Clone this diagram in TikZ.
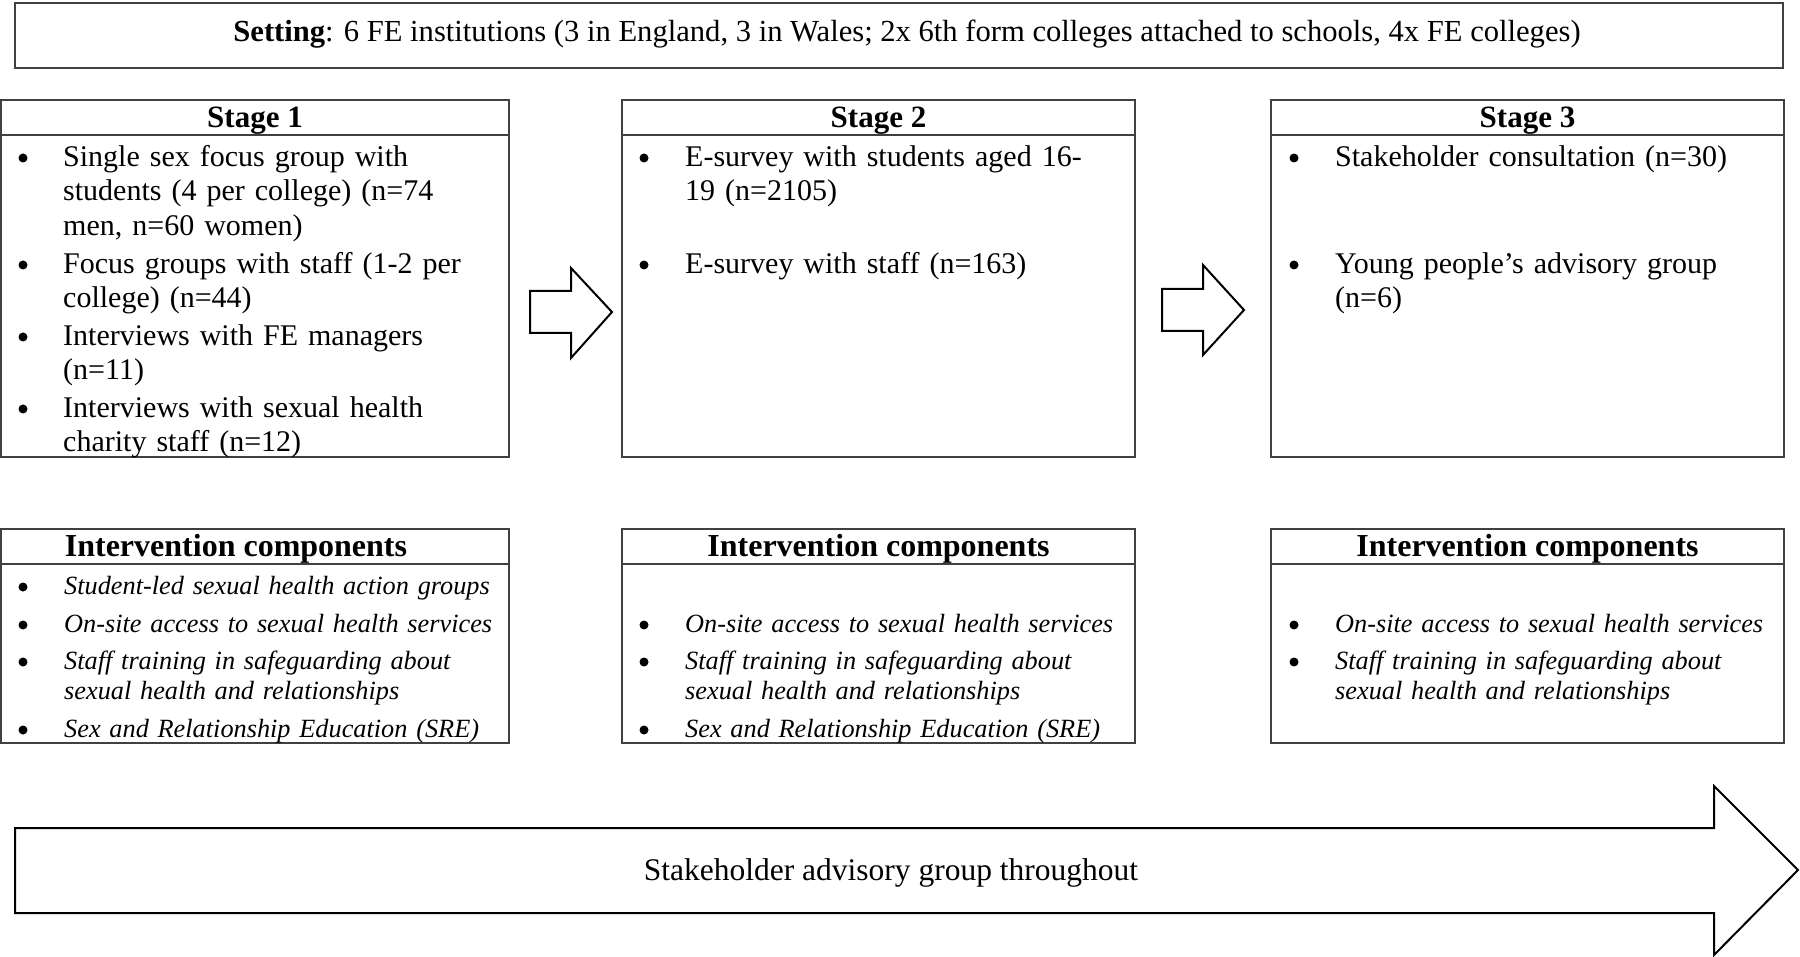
\documentclass[tikz,border=0pt]{standalone}
\usepackage{fontspec}
\setmainfont{Liberation Serif}
\begin{document}
\begin{tikzpicture}[x=1pt,y=-1pt,
  boxline/.style={draw=black!75, line width=1.5pt},
  blockarrow/.style={draw=black, line width=2pt, line join=miter, fill=white},
  itemtext/.style={anchor=base west, inner sep=0pt, align=left, text width=440pt, font=\fontsize{30}{34.4}\selectfont},
  comptext/.style={anchor=base west, inner sep=0pt, align=left, text width=440pt, font=\fontsize{26.3}{30}\selectfont\itshape},
  headtext/.style={anchor=base, inner sep=0pt, font=\fontsize{31}{36}\selectfont\bfseries},
  comphead/.style={anchor=base, inner sep=0pt, font=\fontsize{32}{36}\selectfont\bfseries},
  dot/.style={circle, fill=black, inner sep=0pt, minimum size=9pt}
]
\useasboundingbox (0,0) rectangle (1800,957);

% Setting box
\draw[boxline] (15,3) rectangle (1783,68);
\node[anchor=base, inner sep=0pt, font=\fontsize{30.6}{34}\selectfont] (setting) at (907,42)
  {\textbf{Setting}: 6 FE institutions (3 in England, 3 in Wales; 2x 6th form colleges attached to schools, 4x FE colleges)};

% Stage boxes
\draw[boxline] (1,100) rectangle (509,457);   \draw[boxline] (1,135) -- (509,135);
\draw[boxline] (622,100) rectangle (1135,457); \draw[boxline] (622,135) -- (1135,135);
\draw[boxline] (1271,100) rectangle (1784,457); \draw[boxline] (1271,135) -- (1784,135);

\node[headtext] (h1) at (255,128) {Stage 1};
\node[headtext] (h2) at (878.5,128) {Stage 2};
\node[headtext] (h3) at (1527.5,128) {Stage 3};

% Stage 1 items
\node[dot] (b11) at (23,158) {};
\node[itemtext] (t11) at (63,166.5) {Single sex focus group with\\ students (4 per college) (n=74\\ men, n=60 women)};
\node[dot] (b12) at (23,265) {};
\node[itemtext] (t12) at (63,273.5) {Focus groups with staff (1-2 per\\ college) (n=44)};
\node[dot] (b13) at (23,337) {};
\node[itemtext] (t13) at (63,345.5) {Interviews with FE managers\\ (n=11)};
\node[dot] (b14) at (23,409) {};
\node[itemtext] (t14) at (63,417.5) {Interviews with sexual health\\ charity staff (n=12)};

% Stage 2 items
\node[dot] (b21) at (644,158) {};
\node[itemtext] (t21) at (685,166.5) {E-survey with students aged 16-\\ 19 (n=2105)};
\node[dot] (b22) at (644,265) {};
\node[itemtext] (t22) at (685,273.5) {E-survey with staff (n=163)};

% Stage 3 items
\node[dot] (b31) at (1294,158) {};
\node[itemtext] (t31) at (1335,166.5) {Stakeholder consultation (n=30)};
\node[dot] (b32) at (1294,265) {};
\node[itemtext] (t32) at (1335,273.5) {Young people’s advisory group\\ (n=6)};

% Block arrows between stages
\draw[blockarrow] (530,291) -- (571,291) -- (571,268) -- (612,312) -- (571,358) -- (571,333) -- (530,333) -- cycle;
\draw[blockarrow] (1162,289) -- (1203,289) -- (1203,265) -- (1244,310) -- (1203,355) -- (1203,331) -- (1162,331) -- cycle;

% Intervention boxes
\draw[boxline] (1,529) rectangle (509,743);   \draw[boxline] (1,564) -- (509,564);
\draw[boxline] (622,529) rectangle (1135,743); \draw[boxline] (622,564) -- (1135,564);
\draw[boxline] (1271,529) rectangle (1784,743); \draw[boxline] (1271,564) -- (1784,564);

\node[comphead] (ic1) at (236,556) {Intervention components};
\node[comphead] (ic2) at (878.5,556) {Intervention components};
\node[comphead] (ic3) at (1527.5,556) {Intervention components};

% Components stage 1
\node[dot] (c11) at (23,587) {};
\node[comptext] (ct11) at (64,594) {Student-led sexual health action groups};
\node[dot] (c12) at (23,625) {};
\node[comptext] (ct12) at (64,632) {On-site access to sexual health services};
\node[dot] (c13) at (23,662) {};
\node[comptext] (ct13) at (64,669) {Staff training in safeguarding about\\ sexual health and relationships};
\node[dot] (c14) at (23,730) {};
\node[comptext] (ct14) at (64,737) {Sex and Relationship Education (SRE)};

% Components stage 2
\node[dot] (c22) at (644,625) {};
\node[comptext] (ct22) at (685,632) {On-site access to sexual health services};
\node[dot] (c23) at (644,662) {};
\node[comptext] (ct23) at (685,669) {Staff training in safeguarding about\\ sexual health and relationships};
\node[dot] (c24) at (644,730) {};
\node[comptext] (ct24) at (685,737) {Sex and Relationship Education (SRE)};

% Components stage 3
\node[dot] (c32) at (1294,625) {};
\node[comptext] (ct32) at (1335,632) {On-site access to sexual health services};
\node[dot] (c33) at (1294,662) {};
\node[comptext] (ct33) at (1335,669) {Staff training in safeguarding about\\ sexual health and relationships};

% Big bottom arrow
\draw[blockarrow] (15,828) -- (1714,828) -- (1714,786) -- (1798,870) -- (1714,955) -- (1714,913) -- (15,913) -- cycle;
\node[anchor=base, inner sep=0pt, font=\fontsize{31.5}{36}\selectfont] (sag) at (891,880) {Stakeholder advisory group throughout};
\end{tikzpicture}
\end{document}
